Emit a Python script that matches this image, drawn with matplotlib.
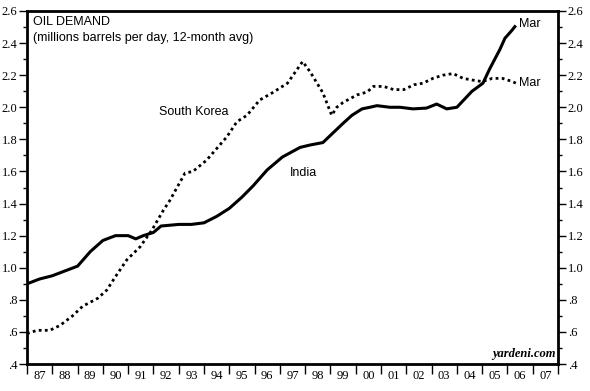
import matplotlib
matplotlib.use("Agg")
import matplotlib.pyplot as plt
from matplotlib.ticker import FixedLocator, FuncFormatter

# India, 12-month avg oil demand (millions barrels per day)
india_year = [1987.0, 1987.5, 1988.0, 1988.5, 1989.0, 1989.5, 1990.0, 1990.5,
              1991.0, 1991.3, 1991.6, 1992.0, 1992.3, 1993.0, 1993.5, 1994.0,
              1994.5, 1995.0, 1995.5, 1995.94, 1996.5, 1997.1, 1997.8, 1998.2,
              1998.7, 1999.1, 1999.5, 1999.85, 2000.25, 2000.56, 2000.84,
              2001.35, 2001.75, 2002.26, 2002.8, 2003.2, 2003.6, 2004.0,
              2004.24, 2004.6, 2005.03, 2005.3, 2005.7, 2005.9, 2006.18, 2006.33]
india_val = [0.90, 0.93, 0.95, 0.98, 1.01, 1.10, 1.17, 1.20,
             1.20, 1.18, 1.20, 1.22, 1.26, 1.27, 1.27, 1.28,
             1.32, 1.37, 1.44, 1.51, 1.61, 1.69, 1.75, 1.765,
             1.78, 1.84, 1.90, 1.95, 1.99, 2.00, 2.01,
             2.00, 2.00, 1.99, 1.995, 2.02, 1.99, 2.00,
             2.04, 2.10, 2.15, 2.24, 2.36, 2.43, 2.48, 2.51]

# South Korea
korea_year = [1987.0, 1987.4, 1987.9, 1988.3, 1988.8, 1989.2, 1989.8, 1990.15,
              1990.5, 1990.95, 1991.47, 1991.94, 1992.4, 1992.65, 1993.25,
              1993.56, 1994.1, 1994.9, 1995.3, 1995.7, 1996.2, 1996.7, 1997.3,
              1997.9, 1998.2, 1998.47, 1998.7, 1999.05, 1999.25, 1999.5,
              2000.05, 2000.45, 2000.7, 2001.1, 2001.5, 2001.9, 2002.3, 2002.66,
              2003.05, 2003.45, 2003.85, 2004.25, 2004.6, 2005.0, 2005.4,
              2005.8, 2006.2, 2006.33]
korea_val = [0.59, 0.61, 0.61, 0.64, 0.70, 0.76, 0.81, 0.86,
             0.945, 1.05, 1.13, 1.235, 1.36, 1.42, 1.59,
             1.60, 1.67, 1.815, 1.91, 1.95, 2.045, 2.09, 2.15,
             2.285, 2.22, 2.15, 2.09, 1.95, 2.00, 2.03,
             2.077, 2.095, 2.13, 2.13, 2.11, 2.11, 2.14, 2.15,
             2.18, 2.20, 2.21, 2.18, 2.17, 2.16, 2.18,
             2.18, 2.16, 2.15]

year_labels = ["87", "88", "89", "90", "91", "92", "93", "94", "95", "96", "97",
               "98", "99", "00", "01", "02", "03", "04", "05", "06", "07"]
y_major = [0.4, 0.6, 0.8, 1.0, 1.2, 1.4, 1.6, 1.8, 2.0, 2.2, 2.4, 2.6]

SANS = "Liberation Sans"
SERIF = "Liberation Serif"

fig = plt.figure(figsize=(5.9, 3.91), dpi=100)
ax = fig.add_axes([0.0458, 0.069, 0.9, 0.9029])

ax.plot(india_year, india_val, color="black", lw=2.2, solid_capstyle="butt")
ax.plot(korea_year, korea_val, color="black", lw=2.0, ls=(0, (1, 1.2)))

ax.set_xlim(1987, 2008)
ax.set_ylim(0.4, 2.6)

# x axis: ticks at year boundaries, labels centred between
ax.xaxis.set_major_locator(FixedLocator(list(range(1987, 2009))))
ax.xaxis.set_minor_locator(FixedLocator([1987.5 + i for i in range(len(year_labels))]))
ax.xaxis.set_major_formatter(FuncFormatter(lambda v, p: ""))
ax.xaxis.set_minor_formatter(FuncFormatter(
    lambda v, p: year_labels[int(v - 1987.5 + 0.01)] if 0 <= int(v - 1987.5 + 0.01) < len(year_labels) else ""))
ax.tick_params(axis="x", which="major", direction="out", length=7, width=1, pad=2)
ax.tick_params(axis="x", which="minor", length=0, labelsize=9, pad=4)

# y axis: both sides, minor ticks halfway
ax.yaxis.set_major_locator(FixedLocator(y_major))
ax.yaxis.set_minor_locator(FixedLocator([v + 0.1 for v in y_major[:-1]]))


def fmt_y(v, p):
    s = f"{v:.1f}"
    return s[1:] if s.startswith("0") else s


ax.yaxis.set_major_formatter(FuncFormatter(fmt_y))
ax.tick_params(axis="y", which="major", direction="out", length=6, width=1,
               left=True, right=True, labelleft=True, labelright=True,
               labelsize=9, pad=1)
ax.tick_params(axis="y", which="minor", direction="out", length=3, width=1,
               left=True, right=True)

for lab in ax.get_xticklabels(minor=True) + ax.get_yticklabels():
    lab.set_fontfamily(SERIF)

for sp in ax.spines.values():
    sp.set_linewidth(2)

ax.text(0.012, 0.985, "OIL DEMAND", transform=ax.transAxes, ha="left", va="top",
        fontsize=9, family=SANS)
ax.text(0.012, 0.94, "(millions barrels per day, 12-month avg)", transform=ax.transAxes,
        ha="left", va="top", fontsize=9, family=SANS)

ax.text(1992.2, 1.97, "South Korea", fontsize=9, family=SANS, ha="left", va="center")
ax.text(1997.4, 1.59, "India", fontsize=9, family=SANS, ha="left", va="center")
ax.text(2006.45, 2.52, "Mar", fontsize=9, family=SANS, ha="left", va="center")
ax.text(2006.45, 2.15, "Mar", fontsize=9, family=SANS, ha="left", va="center")

ax.text(0.995, 0.012, "yardeni.com", transform=ax.transAxes, ha="right", va="bottom",
        fontsize=9, family=SERIF, style="italic", weight="bold")

fig.savefig("out.png", dpi=100)
